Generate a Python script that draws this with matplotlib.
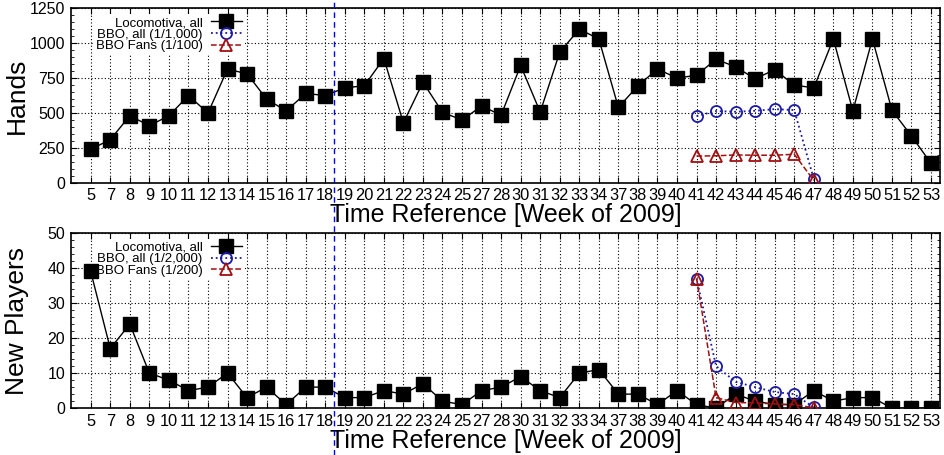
import matplotlib.pyplot as plt
from matplotlib.lines import Line2D
from matplotlib.ticker import AutoMinorLocator

plt.rcParams['font.family'] = ['Liberation Sans', 'DejaVu Sans']

# semanas (eixo categorico)
weeks = ['5', '7', '8', '9', '10', '11', '12', '13', '14', '15', '16', '17', '18',
         '19', '20', '21', '22', '23', '24', '25', '27', '28', '30', '31', '32',
         '33', '34', '37', '38', '39', '40', '41', '42', '43', '44', '45', '46',
         '47', '48', '49', '50', '51', '52', '53']
bbo_weeks = ['41', '42', '43', '44', '45', '46', '47']

hands_loco = [240, 310, 480, 410, 480, 625, 500, 815, 780, 600, 515, 640, 625,
              680, 695, 890, 430, 720, 505, 450, 550, 485, 840, 507, 935,
              1100, 1030, 540, 695, 815, 750, 770, 885, 830, 745, 810, 700,
              680, 1030, 515, 1030, 520, 335, 140]
hands_bbo = [478, 514, 509, 516, 528, 521, 28]
hands_fans = [192, 194, 200, 198, 198, 205, 18]

new_loco = [39, 17, 24, 10, 8, 5, 6, 10, 3, 6, 1, 6, 6,
            3, 3, 5, 4, 7, 2, 1, 5, 6, 9, 5, 3,
            10, 11, 4, 4, 1, 5, 1, 0, 4, 2, 1, 1,
            5, 2, 3, 3, 0, 0, 0]
new_bbo = [37, 12, 7.5, 6, 4.6, 4, 0.2]
new_fans = [37, 3, 1.6, 1.5, 1.2, 1, 0.1]

split_week = 12.45  # linha entre as semanas 18 e 19

fig = plt.figure(figsize=(9.44, 4.55), dpi=100)
ax1 = fig.add_axes([0.075, 0.598, 0.921, 0.384])
ax2 = fig.add_axes([0.075, 0.103, 0.921, 0.385])

x = list(range(len(weeks)))
xb = [weeks.index(w) for w in bbo_weeks]


def draw(ax, loco, bbo, fans, labels, ylabel, yticks):
    ax.plot(x, loco, '-', color='black', lw=1, marker='s', ms=10.5,
            mfc='black', mec='black', label=labels[0], zorder=3)
    ax.plot(xb, bbo, ':', color='#1a1aa6', lw=1.3, marker='o', ms=8,
            mfc='none', mec='#1a1aa6', mew=1.3, label=labels[1], zorder=4)
    ax.plot(xb, fans, '--', color='#a01010', lw=1.1, marker='^', ms=8,
            mfc='none', mec='#a01010', mew=1.3, label=labels[2], zorder=4)
    ax.set_xlim(-1.02, 43.47)
    ax.set_ylim(yticks[0], yticks[-1])
    ax.set_yticks(yticks)
    ax.yaxis.set_minor_locator(AutoMinorLocator(5))
    ax.set_xticks(x)
    ax.set_xticklabels(weeks, fontsize=11.8)
    ax.tick_params(axis='y', labelsize=11.5)
    ax.tick_params(direction='in', top=True, right=True, length=4, pad=4)
    ax.tick_params(which='minor', direction='in', right=True, length=2.5)
    ax.grid(True, color='black', linestyle=(0, (1, 2)), lw=0.8)
    ax.set_ylabel(ylabel, fontsize=19)
    ax.set_xlabel('Time Reference [Week of 2009]', fontsize=18, labelpad=0)
    for s in ax.spines.values():
        s.set_linewidth(1.2)
    leg = ax.legend(loc='upper right', bbox_to_anchor=(0.207, 1.0),
                    frameon=True, fancybox=False, facecolor='white',
                    edgecolor='none', framealpha=1.0,
                    markerfirst=False, fontsize=9.5, handlelength=2.4,
                    labelspacing=-0.05, borderaxespad=0.45, borderpad=0.2,
                    handletextpad=0.6)
    leg.set_zorder(2.5)


draw(ax1, hands_loco, hands_bbo, hands_fans,
     ['Locomotiva, all', 'BBO, all (1/1,000)', 'BBO Fans (1/100)'],
     'Hands', [0, 250, 500, 750, 1000, 1250])
draw(ax2, new_loco, new_bbo, new_fans,
     ['Locomotiva, all', 'BBO, all (1/2,000)', 'BBO Fans (1/200)'],
     'New Players', [0, 10, 20, 30, 40, 50])

for ax in (ax1, ax2):
    ax.yaxis.set_label_coords(-0.048, 0.5)

# linha vertical azul atravessando a figura inteira
xd = ax1.transData.transform((split_week, 0))[0]
xf = fig.transFigure.inverted().transform((xd, 0))[0]
fig.add_artist(Line2D([xf, xf], [0, 1], color='#0000ee', lw=1.0,
                      linestyle=(0, (4, 3)), transform=fig.transFigure))

fig.savefig('out.png', dpi=100)
